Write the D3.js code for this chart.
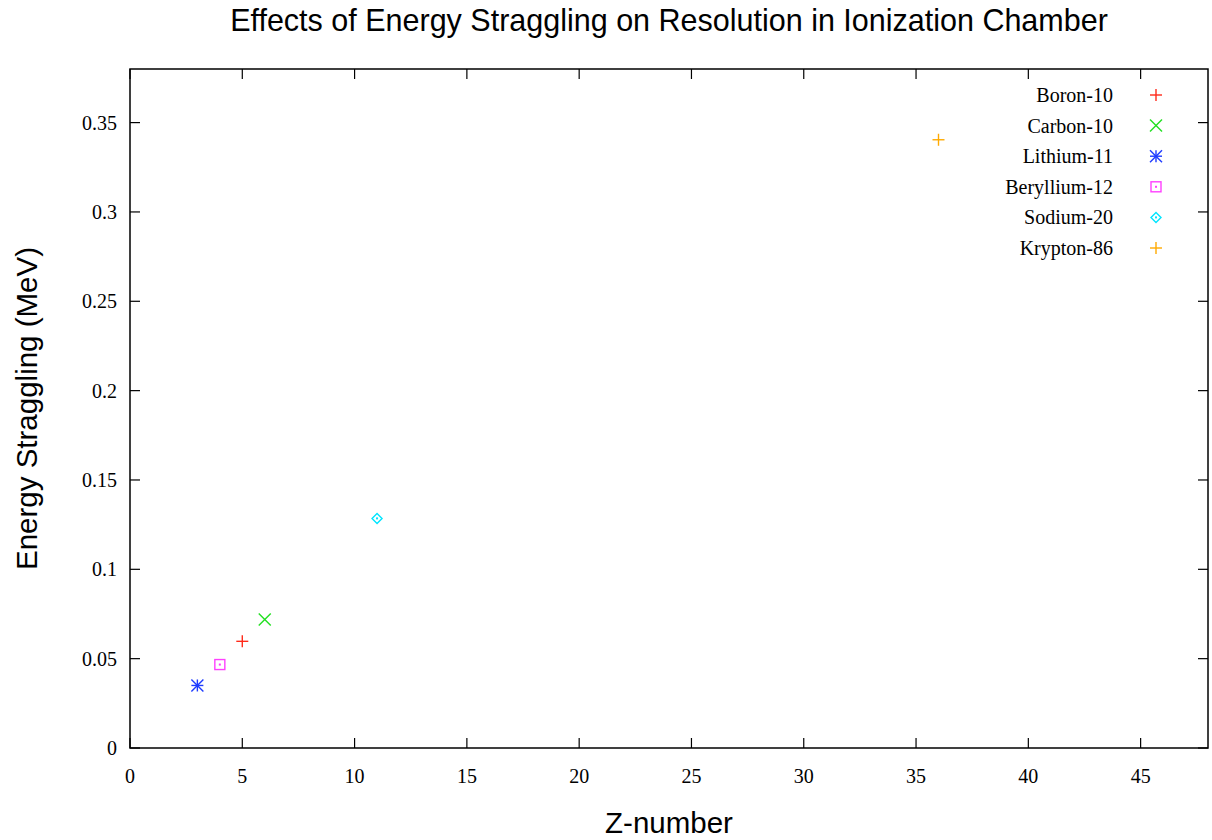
<!DOCTYPE html>
<html>
<head>
  <title>Energy Straggling</title>
  <script src="https://d3js.org/d3.v7.min.js"></script>
  <style>
    body { margin: 0; background: #fff; }
    .tick-label { font-family: "Liberation Serif", "DejaVu Serif", serif; font-size: 20px; fill: #000; }
    .big { font-family: "Liberation Sans", Arial, sans-serif; font-size: 29.5px; fill: #000; }
  </style>
</head>
<body>
  <script>
    // isotopes, their Z number and the energy straggling
    var isotopes = ["Boron-10", "Carbon-10", "Lithium-11", "Beryllium-12", "Sodium-20", "Krypton-86"];
    var zNumber = [5, 6, 3, 4, 11, 36];
    var straggling = [0.0597, 0.0719, 0.0350, 0.0467, 0.1285, 0.3404];
    var markers = ["plus", "cross", "star", "boxdot", "diamond", "plus"];
    var colors = ["#ff2a1a", "#22e022", "#1f3cff", "#ff40ff", "#00e5ff", "#ffaa00"];

    var xTicks = [0, 5, 10, 15, 20, 25, 30, 35, 40, 45];
    var yTicks = [0, 0.05, 0.1, 0.15, 0.2, 0.25, 0.3, 0.35];

    var W = 1212, H = 840;
    var margin = {top: 69, right: 4, bottom: 92, left: 130};
    var width = W - margin.left - margin.right;
    var height = H - margin.top - margin.bottom;

    var svg = d3.select("body").append("svg")
      .attr("width", W)
      .attr("height", H);

    var g = svg.append("g")
      .attr("transform", "translate(" + margin.left + "," + margin.top + ")");

    var x = d3.scaleLinear().domain([0, 48]).range([0, width]);
    var y = d3.scaleLinear().domain([0, 0.38]).range([height, 0]);

    // frame
    g.append("rect")
      .attr("width", width)
      .attr("height", height)
      .attr("fill", "none")
      .attr("stroke", "#000")
      .attr("stroke-width", 1.5);

    var tl = 10;
    // x ticks, bottom and mirrored on top
    xTicks.forEach(function(t) {
      g.append("line").attr("x1", x(t)).attr("x2", x(t)).attr("y1", height).attr("y2", height - tl)
        .attr("stroke", "#000").attr("stroke-width", 1.2);
      g.append("line").attr("x1", x(t)).attr("x2", x(t)).attr("y1", 0).attr("y2", tl)
        .attr("stroke", "#000").attr("stroke-width", 1.2);
      g.append("text").attr("class", "tick-label")
        .attr("x", x(t)).attr("y", height + 35)
        .attr("text-anchor", "middle")
        .text(t);
    });

    // y ticks, left and mirrored on right
    yTicks.forEach(function(t) {
      g.append("line").attr("x1", 0).attr("x2", tl).attr("y1", y(t)).attr("y2", y(t))
        .attr("stroke", "#000").attr("stroke-width", 1.2);
      g.append("line").attr("x1", width).attr("x2", width - tl).attr("y1", y(t)).attr("y2", y(t))
        .attr("stroke", "#000").attr("stroke-width", 1.2);
      g.append("text").attr("class", "tick-label")
        .attr("x", -13).attr("y", y(t) + 7)
        .attr("text-anchor", "end")
        .text(t);
    });

    // title and axis labels
    svg.append("text").attr("class", "big")
      .attr("x", margin.left + width / 2).attr("y", 31)
      .attr("text-anchor", "middle")
      .style("font-size", "30.5px")
      .text("Effects of Energy Straggling on Resolution in Ionization Chamber");

    svg.append("text").attr("class", "big")
      .attr("x", margin.left + width / 2).attr("y", 833)
      .attr("text-anchor", "middle")
      .text("Z-number");

    svg.append("text").attr("class", "big")
      .attr("transform", "translate(37," + (margin.top + height / 2) + ") rotate(-90)")
      .attr("text-anchor", "middle")
      .text("Energy Straggling (MeV)");

    // draw a gnuplot-like point symbol
    function drawMarker(sel, type, color) {
      var s = 6;
      var p = sel.append("g").attr("stroke", color).attr("stroke-width", 1.4).attr("fill", "none");
      if (type === "plus" || type === "star") {
        p.append("line").attr("x1", -s).attr("x2", s).attr("y1", 0).attr("y2", 0);
        p.append("line").attr("x1", 0).attr("x2", 0).attr("y1", -s).attr("y2", s);
      }
      if (type === "cross" || type === "star") {
        p.append("line").attr("x1", -s).attr("x2", s).attr("y1", -s).attr("y2", s);
        p.append("line").attr("x1", -s).attr("x2", s).attr("y1", s).attr("y2", -s);
      }
      if (type === "boxdot") {
        p.append("rect").attr("x", -5).attr("y", -5).attr("width", 10).attr("height", 10);
        p.append("rect").attr("x", -1).attr("y", -1).attr("width", 2).attr("height", 2)
          .attr("fill", color).attr("stroke", "none");
      }
      if (type === "diamond") {
        p.append("path").attr("d", "M0,-5L5,0L0,5L-5,0Z");
        p.append("rect").attr("x", -1).attr("y", -1).attr("width", 2).attr("height", 2)
          .attr("fill", color).attr("stroke", "none");
      }
    }

    // points
    isotopes.forEach(function(name, i) {
      var pt = g.append("g")
        .attr("transform", "translate(" + x(zNumber[i]) + "," + y(straggling[i]) + ")");
      drawMarker(pt, markers[i], colors[i]);
    });

    // legend
    var legend = svg.append("g").attr("transform", "translate(1113,95)");
    isotopes.forEach(function(name, i) {
      var row = legend.append("g").attr("transform", "translate(0," + (i * 30.6) + ")");
      row.append("text").attr("class", "tick-label")
        .attr("x", 0).attr("y", 7)
        .attr("text-anchor", "end")
        .text(name);
      var m = row.append("g").attr("transform", "translate(43,0)");
      drawMarker(m, markers[i], colors[i]);
    });
  </script>
</body>
</html>
